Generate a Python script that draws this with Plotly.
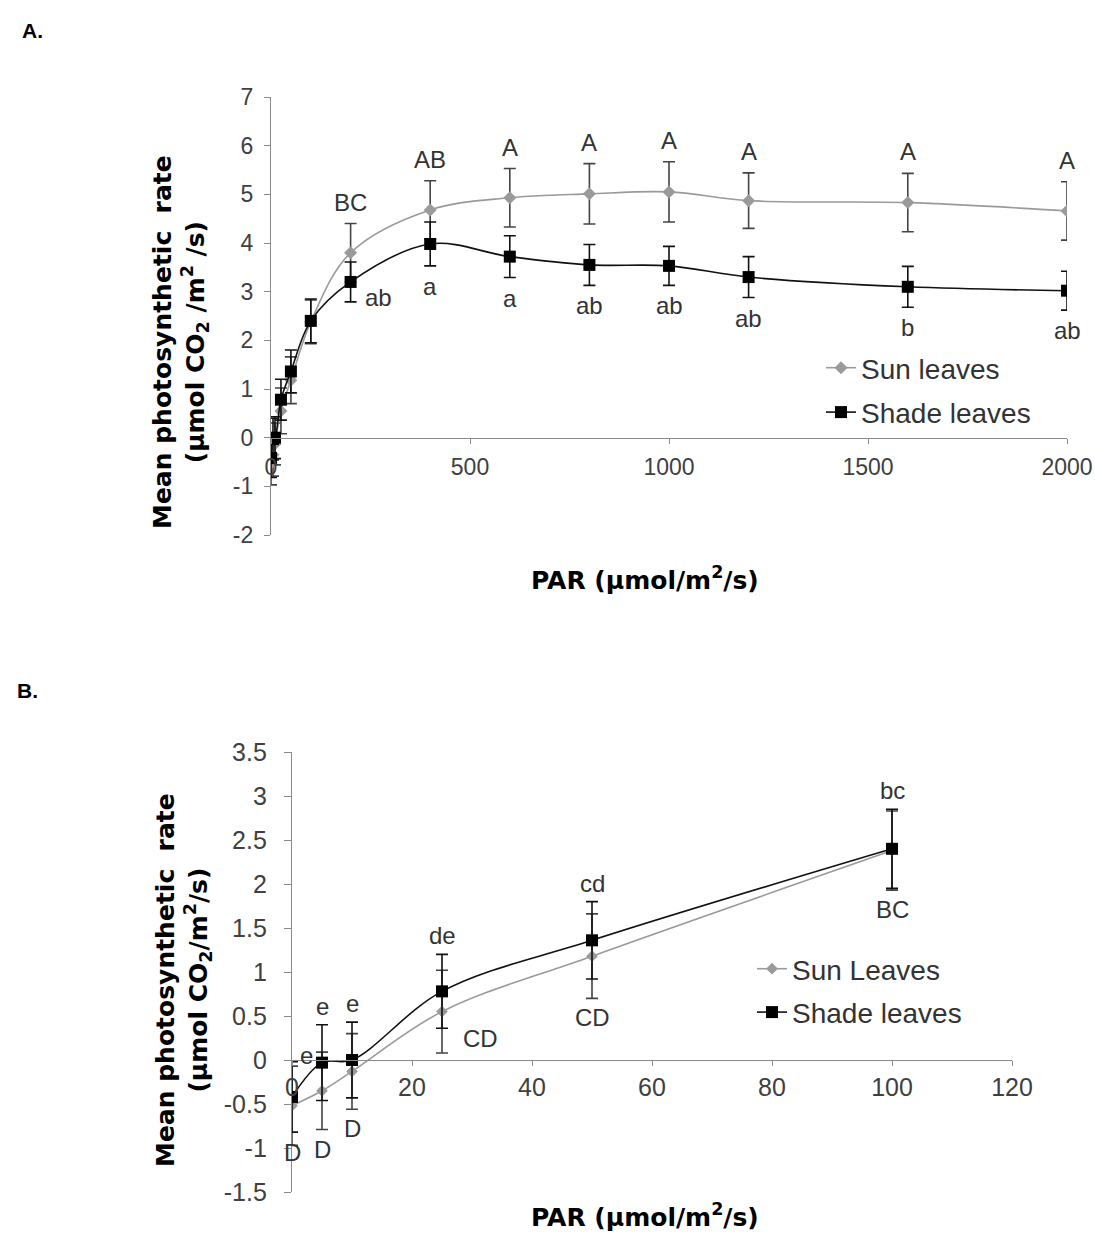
import plotly.graph_objects as go

# ---------------- data ----------------
par = [0, 5, 10, 25, 50, 100, 200, 400, 600, 800, 1000, 1200, 1600, 2000]
sun = [-0.52, -0.35, -0.13, 0.55, 1.18, 2.38, 3.80, 4.68, 4.93, 5.01, 5.05, 4.87, 4.83, 4.66]
sun_err = [0.45, 0.44, 0.43, 0.47, 0.48, 0.45, 0.60, 0.60, 0.60, 0.62, 0.62, 0.57, 0.60, 0.60]
shade = [-0.42, -0.03, 0.00, 0.78, 1.36, 2.40, 3.20, 3.98, 3.72, 3.55, 3.53, 3.30, 3.10, 3.02]
shade_err = [0.40, 0.43, 0.43, 0.42, 0.44, 0.45, 0.41, 0.45, 0.43, 0.42, 0.40, 0.42, 0.42, 0.40]
sun_letters = ["D", "D", "D", "CD", "CD", "BC", "BC", "AB", "A", "A", "A", "A", "A", "A"]
shade_letters = ["e", "e", "e", "de", "cd", "bc", "ab", "a", "a", "ab", "ab", "ab", "b", "ab"]

xticks_a = [0, 500, 1000, 1500, 2000]
yticks_a = [-2, -1, 0, 1, 2, 3, 4, 5, 6, 7]
xticks_b = [0, 20, 40, 60, 80, 100, 120]
yticks_b = [-1.5, -1, -0.5, 0, 0.5, 1, 1.5, 2, 2.5, 3, 3.5]

def lbl(v):
    return ("%g" % v)

# ---------------- layout geometry ----------------
W, H = 1095, 1234
def px_x(p): return p / W
def px_y(p): return 1 - p / H

xa_dom = [px_x(271), px_x(1067)]
ya_dom = [px_y(535), px_y(97)]
xb_dom = [px_x(292), px_x(1012)]
yb_dom = [px_y(1192), px_y(752)]
ya_rng = [-2, 7]
yb_rng = [-1.5, 3.5]
zero_a = ya_dom[0] + (0 - ya_rng[0]) / (ya_rng[1] - ya_rng[0]) * (ya_dom[1] - ya_dom[0])
zero_b = yb_dom[0] + (0 - yb_rng[0]) / (yb_rng[1] - yb_rng[0]) * (yb_dom[1] - yb_dom[0])

SUN_C = "#9a9a9a"
SHADE_C = "#111111"
AXIS_C = "#8a8a8a"
TXT_C = "#404040"
FONT = "Liberation Sans, Arial, sans-serif"
BOLD = "DejaVu Sans, sans-serif"

fig = go.Figure()

nb = sum(1 for p in par if p <= 100)

def add_pair(xs, s, se, sh, she, xax, yax, leg, sun_name, msize):
    fig.add_trace(go.Scatter(
        x=xs, y=s, mode="lines+markers", name=sun_name,
        line=dict(color=SUN_C, width=1.6, shape="spline", smoothing=1),
        marker=dict(symbol="diamond", size=msize, color=SUN_C),
        error_y=dict(type="data", array=se, visible=True, color="#444444", thickness=1.6, width=6),
        xaxis=xax, yaxis=yax, legend=leg, legendgroup=leg + "sun"))
    fig.add_trace(go.Scatter(
        x=xs, y=sh, mode="lines+markers", name="Shade leaves",
        line=dict(color=SHADE_C, width=1.6, shape="spline", smoothing=1),
        marker=dict(symbol="square", size=12, color="#000000"),
        error_y=dict(type="data", array=she, visible=True, color="#111111", thickness=1.6, width=6),
        xaxis=xax, yaxis=yax, legend=leg, legendgroup=leg + "shade"))

add_pair(par, sun, sun_err, shade, shade_err, "x", "y", "legend", "Sun leaves", 10)
add_pair(par[:nb], sun[:nb], sun_err[:nb], shade[:nb], shade_err[:nb], "x2", "y2", "legend2",
         "Sun Leaves", 9)

ann = []
LET_FONT = dict(family=FONT, size=24, color="#333333")
# Panel A letters (PAR >= 200)
for i, p in enumerate(par):
    if p < 200:
        continue
    ann.append(dict(x=p, y=sun[i] + sun_err[i], xref="x", yref="y", text=sun_letters[i],
                    showarrow=False, yanchor="bottom", yshift=6, font=LET_FONT))
    if p == 200:
        ann.append(dict(x=p, y=shade[i] - shade_err[i], xref="x", yref="y", text=shade_letters[i],
                        showarrow=False, yanchor="middle", xshift=28, yshift=4, font=LET_FONT))
    else:
        ann.append(dict(x=p, y=shade[i] - shade_err[i], xref="x", yref="y", text=shade_letters[i],
                        showarrow=False, yanchor="top", yshift=-5, font=LET_FONT))
# Panel B letters (PAR <= 100)
for i in range(nb):
    p = par[i]
    if p == 0:
        ann.append(dict(x=p, y=shade[i] + shade_err[i], xref="x2", yref="y2", text=shade_letters[i],
                        showarrow=False, yanchor="middle", xshift=14, yshift=6, font=LET_FONT))
        ann.append(dict(x=p, y=sun[i] - sun_err[i], xref="x2", yref="y2", text=sun_letters[i],
                        showarrow=False, yanchor="middle", yshift=-7, font=LET_FONT))
        continue
    ann.append(dict(x=p, y=shade[i] + shade_err[i], xref="x2", yref="y2", text=shade_letters[i],
                    showarrow=False, yanchor="bottom", yshift=3, font=LET_FONT))
    if p == 25:
        ann.append(dict(x=p, y=sun[i] - sun_err[i], xref="x2", yref="y2", text=sun_letters[i],
                        showarrow=False, yanchor="middle", xshift=38, yshift=14, font=LET_FONT))
    else:
        ann.append(dict(x=p, y=sun[i] - sun_err[i], xref="x2", yref="y2", text=sun_letters[i],
                        showarrow=False, yanchor="top", yshift=-4, font=LET_FONT))

TITLE_FONT = dict(family=BOLD, size=25, color="#000000")
ann += [
    dict(x=px_x(20), y=px_y(30), xref="paper", yref="paper", text="<b>A.</b>", showarrow=False,
         font=dict(family=FONT, size=21, color="#000"), xanchor="left", yanchor="middle"),
    dict(x=px_x(15), y=px_y(690), xref="paper", yref="paper", text="<b>B.</b>", showarrow=False,
         font=dict(family=FONT, size=21, color="#000"), xanchor="left", yanchor="middle"),
    dict(x=px_x(180), y=px_y(342), xref="paper", yref="paper", textangle=-90, showarrow=False,
         text="<b>Mean photosynthetic  rate<br>(µmol CO<sub>2</sub> /m<sup>2</sup> /s)</b>",
         font=TITLE_FONT, xanchor="center", yanchor="middle"),
    dict(x=px_x(183), y=px_y(980), xref="paper", yref="paper", textangle=-90, showarrow=False,
         text="<b>Mean photosynthetic  rate<br>(µmol CO<sub>2</sub>/m<sup>2</sup>/s)</b>",
         font=TITLE_FONT, xanchor="center", yanchor="middle"),
    dict(x=px_x(645), y=px_y(578), xref="paper", yref="paper", showarrow=False,
         text="<b>PAR (µmol/m<sup>2</sup>/s)</b>", font=TITLE_FONT, xanchor="center", yanchor="middle"),
    dict(x=px_x(645), y=px_y(1215), xref="paper", yref="paper", showarrow=False,
         text="<b>PAR (µmol/m<sup>2</sup>/s)</b>", font=TITLE_FONT, xanchor="center", yanchor="middle"),
]

axis_common = dict(showgrid=False, zeroline=False, showline=True, linecolor=AXIS_C, linewidth=1.3,
                   ticks="outside", tickcolor=AXIS_C, tickwidth=1.3, automargin=False)

fig.update_layout(
    width=W, height=H, margin=dict(l=0, r=0, t=0, b=0),
    paper_bgcolor="white", plot_bgcolor="white",
    font=dict(family=FONT, color=TXT_C),
    xaxis=dict(domain=xa_dom, range=[0, 2000], anchor="free", position=zero_a,
               tickvals=xticks_a, ticktext=[lbl(v) for v in xticks_a], ticklen=5, ticklabelstandoff=4,
               tickfont=dict(size=23, color=TXT_C), **axis_common),
    yaxis=dict(domain=ya_dom, range=ya_rng, anchor="x", tickvals=yticks_a,
               ticktext=[lbl(v) for v in yticks_a], ticklen=6,
               ticklabelstandoff=6, tickfont=dict(size=23, color=TXT_C), **axis_common),
    xaxis2=dict(domain=xb_dom, range=[0, 120], anchor="free", position=zero_b,
                tickvals=xticks_b, ticktext=[lbl(v) for v in xticks_b], ticklen=5, ticklabelstandoff=0,
                tickfont=dict(size=25, color=TXT_C), **axis_common),
    yaxis2=dict(domain=yb_dom, range=yb_rng, anchor="x2", tickvals=yticks_b,
                ticktext=[lbl(v) for v in yticks_b], ticklen=7,
                ticklabelstandoff=12, tickfont=dict(size=25, color=TXT_C), **axis_common),
    legend=dict(x=px_x(821), y=px_y(343), xanchor="left", yanchor="top", bgcolor="rgba(0,0,0,0)",
                font=dict(family=FONT, size=28, color="#333333"), traceorder="grouped",
                tracegroupgap=5),
    legend2=dict(x=px_x(752), y=px_y(944), xanchor="left", yanchor="top", bgcolor="rgba(0,0,0,0)",
                 font=dict(family=FONT, size=28, color="#333333"), traceorder="grouped",
                 tracegroupgap=4),
    annotations=ann,
)

fig.write_html("out.html", config={"displayModeBar": False},
               post_script="document.body.style.margin='0';document.body.style.overflow='hidden';")
